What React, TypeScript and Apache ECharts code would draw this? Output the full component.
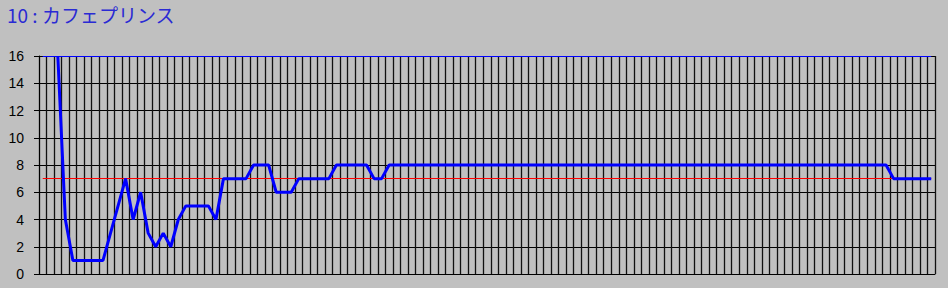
import React, { useEffect, useRef } from "react";
import * as echarts from "echarts";

const titleText = "10 : カフェプリンス";

// 119 time steps (one per grid column)
const categories: string[] = [];
for (let i = 1; i <= 119; i++) categories.push(String(i));

const yTicks = [0, 2, 4, 6, 8, 10, 12, 14, 16];

// blue line: position (null = not drawn)
const positions: (number | null)[] = [
  null, null, 16, 4, 1, 1, 1, 1, 1, 3,
  5, 7, 4, 6, 3, 2, 3, 2, 4, 5,
  5, 5, 5, 4, 7, 7, 7, 7, 8, 8,
  8, 6, 6, 6, 7, 7, 7, 7, 7, 8,
  8, 8, 8, 8, 7, 7, 8, 8, 8, 8,
  8, 8, 8, 8, 8, 8, 8, 8, 8, 8,
  8, 8, 8, 8, 8, 8, 8, 8, 8, 8,
  8, 8, 8, 8, 8, 8, 8, 8, 8, 8,
  8, 8, 8, 8, 8, 8, 8, 8, 8, 8,
  8, 8, 8, 8, 8, 8, 8, 8, 8, 8,
  8, 8, 8, 8, 8, 8, 8, 8, 8, 8,
  8, 8, 8, 7, 7, 7, 7, 7, 7,
];

const finalLine = 7; // red reference line
const topLine = 16; // thin blue line at top

export default function App() {
  const ref = useRef<HTMLDivElement>(null);
  useEffect(() => {
    if (!ref.current) return;
    const chart = echarts.init(ref.current, undefined, { renderer: "svg" });
    const first = categories[0];
    const last = categories[categories.length - 1];
    chart.setOption({
      animation: false,
      backgroundColor: "#c0c0c0",
      title: {
        text: titleText,
        left: 7,
        top: 5,
        padding: 0,
        textStyle: {
          fontSize: 19,
          fontWeight: "normal",
          color: "#2a2ad4",
          fontFamily: "Noto Sans CJK JP",
        },
      },
      grid: { left: 39, right: 13, top: 56, bottom: 14 },
      xAxis: {
        type: "category",
        data: categories,
        boundaryGap: true,
        axisLine: { show: true, lineStyle: { color: "#000", width: 1 } },
        axisTick: { show: false },
        axisLabel: { show: false },
        splitLine: {
          show: true,
          interval: 0,
          lineStyle: { color: "#111", width: 1.3 },
        },
      },
      yAxis: {
        type: "value",
        min: yTicks[0],
        max: yTicks[yTicks.length - 1],
        interval: 2,
        axisLine: { show: true, lineStyle: { color: "#000", width: 1 } },
        axisTick: { show: true, length: 5, lineStyle: { color: "#000", width: 1 } },
        axisLabel: {
          color: "#000",
          fontSize: 14,
          fontFamily: "Liberation Sans",
          margin: 15,
        },
        splitLine: { show: true, lineStyle: { color: "#000", width: 1 } },
      },
      series: [
        {
          type: "line",
          data: positions,
          z: 10,
          showSymbol: false,
          connectNulls: false,
          lineStyle: { color: "#0000ff", width: 3 },
          markLine: {
            silent: true,
            symbol: "none",
            label: { show: false },
            z: 5,
            data: [
              [
                { coord: [first, finalLine], lineStyle: { color: "#ff0000", width: 1, type: "solid" } },
                { coord: [last, finalLine] },
              ],
              [
                { coord: [first, topLine], lineStyle: { color: "#0000ff", width: 1, type: "solid" } },
                { coord: [last, topLine] },
              ],
            ],
          },
        },
      ],
    });
    return () => chart.dispose();
  }, []);
  return (
    <div
      ref={ref}
      style={{ position: "absolute", left: 0, top: 0, width: 948, height: 288 }}
    />
  );
}
